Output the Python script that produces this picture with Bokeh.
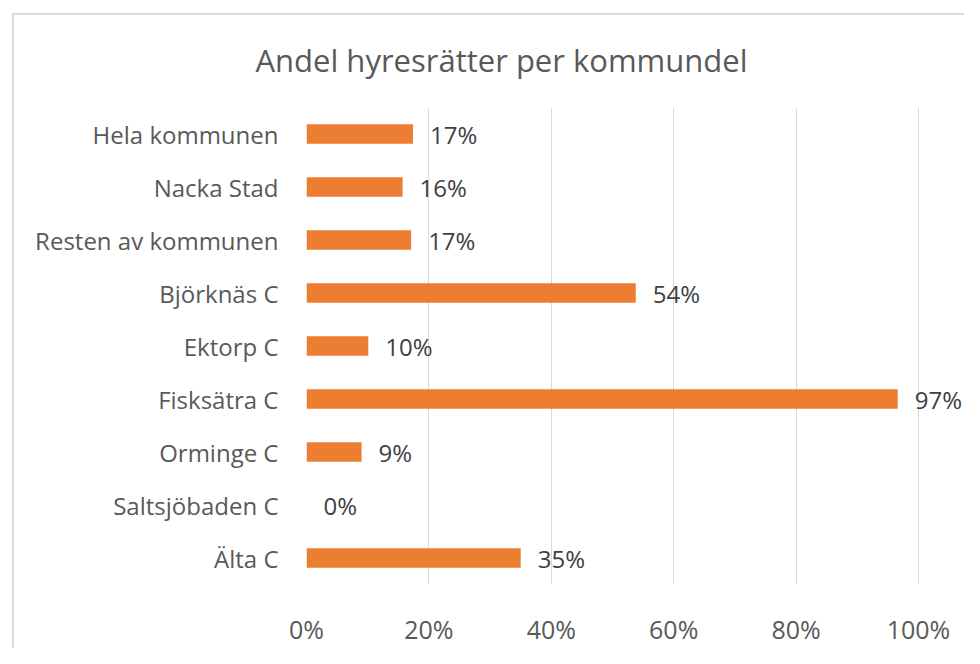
from bokeh.plotting import figure
from bokeh.models import (ColumnDataSource, FactorRange, Range1d, FixedTicker,
                          NumeralTickFormatter, InlineStyleSheet)
from bokeh.core.properties import value
from bokeh.embed import file_html
from bokeh.resources import INLINE

categories = ["Hela kommunen", "Nacka Stad", "Resten av kommunen", "Björknäs C",
              "Ektorp C", "Fisksätra C", "Orminge C", "Saltsjöbaden C", "Älta C"]
shares = [0.174, 0.157, 0.171, 0.538, 0.101, 0.966, 0.090, 0.0, 0.350]
share_labels = ["17%", "16%", "17%", "54%", "10%", "97%", "9%", "0%", "35%"]
x_ticks = [0.0, 0.2, 0.4, 0.6, 0.8, 1.0]
title_text = "Andel hyresrätter per kommundel"

FONT = "Open Sans"
W, H = 964, 648
FL, FT, FB = 306, 107, 600      # frame left / top / bottom (canvas px)
SCALE = 612                      # px per 100 %
src = ColumnDataSource(dict(cat=categories, val=shares, lab=share_labels))

p = figure(width=W, height=H, output_backend="svg", toolbar_location=None,
           y_range=FactorRange(factors=categories[::-1]),
           x_range=Range1d(0, (W - FL) / SCALE),
           min_border_left=FL, min_border_right=0, min_border_top=FT,
           min_border_bottom=H - FB, outline_line_color=None,
           title=title_text)

p.title.align = "left"
p.title.offset = 255 - FL
p.title.standoff = 53
p.title.text_font = FONT
p.title.text_font_size = "31px"
p.title.text_font_style = "normal"
p.title.text_color = "#595959"

p.hbar(y="cat", right="val", left=0, height=0.365, source=src,
       fill_color="#ED7D31", line_color=None)
p.text(x="val", y="cat", text="lab", source=src, x_offset=17,
       text_baseline="middle", text_align="left", text_font=value(FONT),
       text_font_size="24px", text_color="#404040")

p.xaxis.ticker = FixedTicker(ticks=x_ticks)
p.xaxis.formatter = NumeralTickFormatter(format="0%")
p.xaxis.axis_line_color = None
p.xaxis.major_tick_line_color = None
p.xaxis.minor_tick_line_color = None
p.xaxis.major_label_standoff = 21
p.xaxis.major_label_text_font = FONT
p.xaxis.major_label_text_font_size = "25px"
p.xaxis.major_label_text_color = "#595959"

p.yaxis.axis_line_color = None
p.yaxis.major_tick_line_color = None
p.yaxis.major_label_standoff = 22
p.yaxis.major_label_text_font = FONT
p.yaxis.major_label_text_font_size = "24px"
p.yaxis.major_label_text_color = "#595959"

p.ygrid.grid_line_color = None
p.xgrid.grid_line_color = "#d9d9d9"
p.xgrid.ticker = FixedTicker(ticks=x_ticks)

# chart-area border (left and top edges; the rest runs off the picture)
p.stylesheets = [InlineStyleSheet(css="""
:host::after {
  content: "";
  position: absolute;
  left: 12px; top: 13px; right: 0; bottom: 0;
  border-left: 2px solid #d9d9d9;
  border-top: 2px solid #d9d9d9;
  pointer-events: none;
}
""")]

open("out.html", "w").write(file_html(p, INLINE))
